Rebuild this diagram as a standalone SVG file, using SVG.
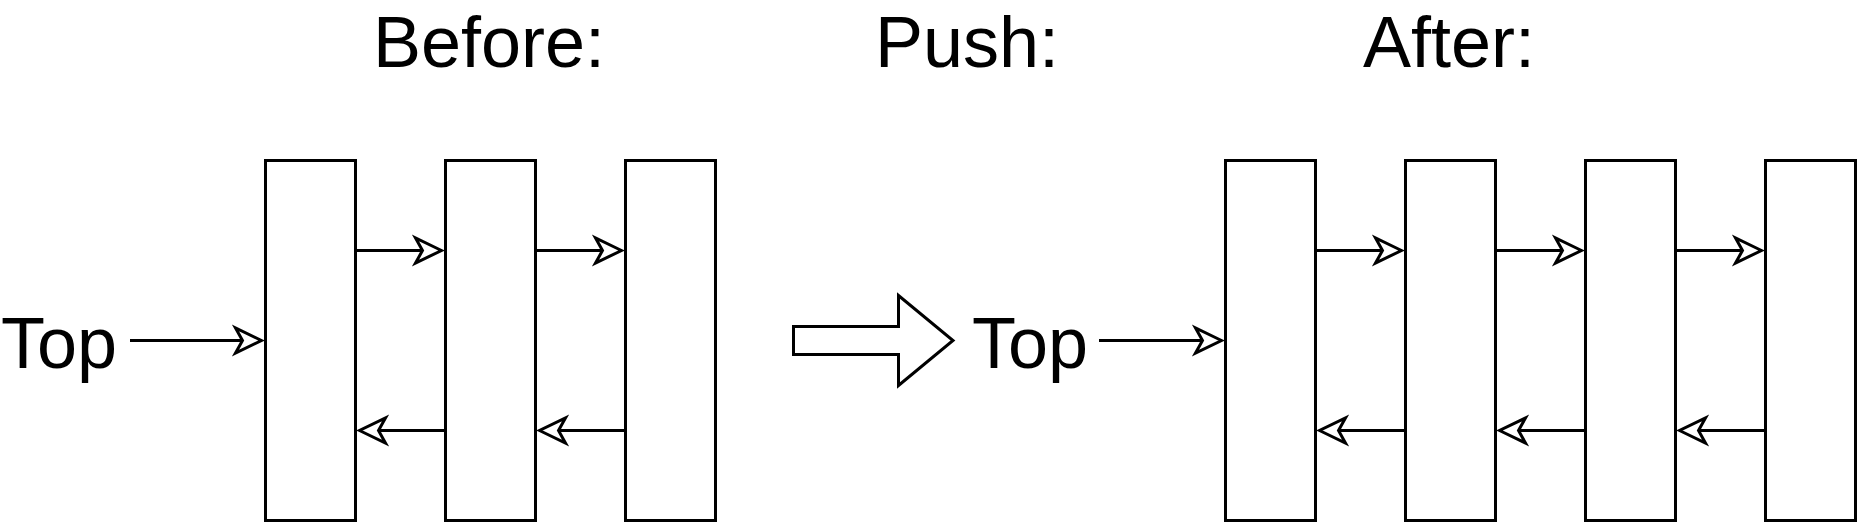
<svg xmlns="http://www.w3.org/2000/svg" width="1857" height="522" viewBox="0 0 1857 522">
<style>
  .box { fill: #ffffff; stroke: #000000; stroke-width: 3; }
  .lbl { font-family: "Liberation Sans", Arial, sans-serif; font-size: 72px; fill: #000000; }
  .edge { stroke: #000000; stroke-width: 3; fill: none; }
  .big { fill: #ffffff; stroke: #000000; stroke-width: 3; stroke-linejoin: miter; }
</style>
<defs>
  <marker id="oa" markerUnits="userSpaceOnUse" orient="auto" refX="0" refY="0" markerWidth="40" markerHeight="40" overflow="visible">
    <path d="M18,0 L-8,-12.5 L-1,0 L-8,12.5 Z" fill="#ffffff" stroke="#000000" stroke-width="3" stroke-linejoin="miter"/>
  </marker>
</defs>
<rect width="1857" height="522" fill="#ffffff"/>

<g id="title-before"><text class="lbl" x="489" y="67" text-anchor="middle">Before:</text></g>
<g id="title-push"><text class="lbl" x="967" y="67" text-anchor="middle">Push:</text></g>
<g id="title-after"><text class="lbl" x="1449" y="67" text-anchor="middle">After:</text></g>

<g id="top-before"><text class="lbl" x="1" y="368">Top</text></g>
<g id="top-after"><text class="lbl" x="972" y="368">Top</text></g>

<g id="push-arrow"><path class="big" d="M793.5,326.5 L898.5,326.5 L898.5,295.5 L953,340.5 L898.5,385.5 L898.5,354.5 L793.5,354.5 Z"/></g>

<g id="before-1"><rect class="box" x="265.5" y="160.5" width="90" height="360"/></g>
<g id="before-2"><rect class="box" x="445.5" y="160.5" width="90" height="360"/></g>
<g id="before-3"><rect class="box" x="625.5" y="160.5" width="90" height="360"/></g>

<g id="after-1"><rect class="box" x="1225.5" y="160.5" width="90" height="360"/></g>
<g id="after-2"><rect class="box" x="1405.5" y="160.5" width="90" height="360"/></g>
<g id="after-3"><rect class="box" x="1585.5" y="160.5" width="90" height="360"/></g>
<g id="after-4"><rect class="box" x="1765.5" y="160.5" width="90" height="360"/></g>

<g id="connectors">
  <line class="edge" x1="130" y1="340.5" x2="243.5" y2="340.5" marker-end="url(#oa)"/>
  <line class="edge" x1="355.5" y1="250.5" x2="423.5" y2="250.5" marker-end="url(#oa)"/>
  <line class="edge" x1="535.5" y1="250.5" x2="603.5" y2="250.5" marker-end="url(#oa)"/>
  <line class="edge" x1="445.5" y1="430.5" x2="377.5" y2="430.5" marker-end="url(#oa)"/>
  <line class="edge" x1="625.5" y1="430.5" x2="557.5" y2="430.5" marker-end="url(#oa)"/>

  <line class="edge" x1="1099" y1="340.5" x2="1203.5" y2="340.5" marker-end="url(#oa)"/>
  <line class="edge" x1="1315.5" y1="250.5" x2="1383.5" y2="250.5" marker-end="url(#oa)"/>
  <line class="edge" x1="1495.5" y1="250.5" x2="1563.5" y2="250.5" marker-end="url(#oa)"/>
  <line class="edge" x1="1675.5" y1="250.5" x2="1743.5" y2="250.5" marker-end="url(#oa)"/>
  <line class="edge" x1="1405.5" y1="430.5" x2="1337.5" y2="430.5" marker-end="url(#oa)"/>
  <line class="edge" x1="1585.5" y1="430.5" x2="1517.5" y2="430.5" marker-end="url(#oa)"/>
  <line class="edge" x1="1765.5" y1="430.5" x2="1697.5" y2="430.5" marker-end="url(#oa)"/>
</g>
</svg>
